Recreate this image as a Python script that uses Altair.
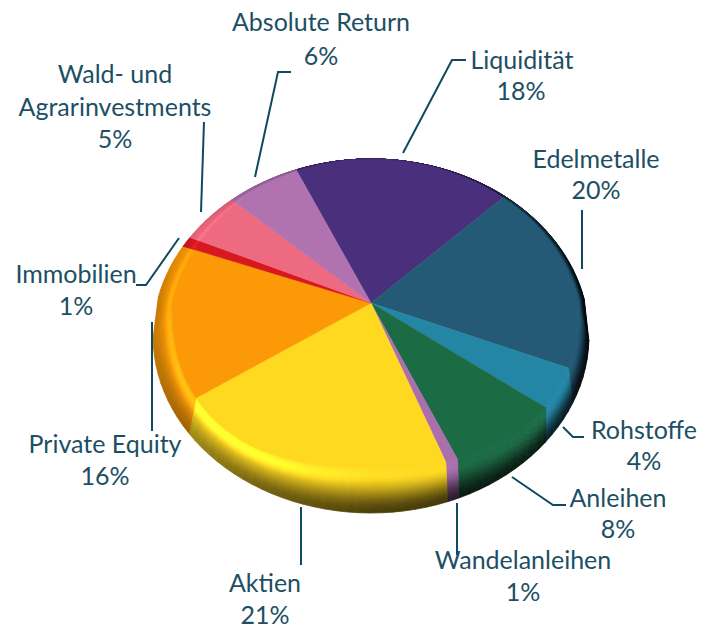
import math
import altair as alt
import pandas as pd

names = ["Liquidität", "Edelmetalle", "Rohstoffe", "Anleihen", "Wandelanleihen",
         "Aktien", "Private Equity", "Immobilien", "Wald- und Agrarinvestments", "Absolute Return"]
shares = [17.4, 19.8, 4.0, 8.1, 0.9, 21.4, 15.5, 1.1, 5.3, 6.1]
colors = ["#4a2f7c", "#245a76", "#2486a5", "#1b6b45", "#ab6fae",
          "#ffd820", "#fb9a06", "#d8181f", "#ee6a80", "#b073b0"]

label_lines = ["Absolute Return", "6%", "Liquidität", "18%", "Edelmetalle", "20%", "Rohstoffe", "4%",
               "Anleihen", "8%", "Wandelanleihen", "1%", "Aktien", "21%", "Private Equity", "16%",
               "Immobilien", "1%", "Wald- und", "Agrarinvestments", "5%"]
label_x = [321, 321, 522, 521, 596, 596, 644, 644, 618, 618, 523, 523, 265, 265, 105, 105, 76, 76, 115, 115, 115]
label_y = [23, 57, 61, 92, 160, 191, 431, 462, 499, 530, 561, 593, 584, 616, 445, 477, 275, 307, 75, 108, 140]

leaders = [
    [(291, 72), (278, 72), (255, 177)],
    [(466, 60), (452, 60), (403, 153)],
    [(582, 210), (582, 269)],
    [(563, 427), (573, 437), (584, 437)],
    [(512, 477), (553, 505), (566, 505)],
    [(457, 503), (457, 555)],
    [(301, 507), (301, 565)],
    [(152, 322), (152, 431)],
    [(136, 285), (146, 285), (179, 238)],
    [(204, 122), (201, 212)],
]

APEX = (371, 303)
START = -22.0
OUTER_C = (371, 336)
OUTER_A, OUTER_B = 218, 177
FACE_LOW = dict(l=199, r=207, b=165, n=2.4)
BANDS = 20
STEP = 3.0

DARK = [(0, .7), (45, .45), (90, .1), (120, .22), (135, .28), (160, .26), (180, .3),
        (210, .45), (235, .62), (270, .8), (300, .95), (360, .7)]
HIGH = [(0, 0), (90, 0), (150, 0), (180, .03), (210, .18), (235, .25), (270, .12), (300, .08), (360, 0)]


def table(tbl, th):
    th %= 360
    for (a, va), (b, vb) in zip(tbl, tbl[1:]):
        if a <= th <= b:
            return va + (vb - va) * (th - a) / (b - a)
    return tbl[-1][1]


def direction(th):
    s, c = math.sin(math.radians(th)), math.cos(math.radians(th))
    ax = FACE_LOW["r"] if s >= 0 else FACE_LOW["l"]
    ry = 143 if c >= 0 else FACE_LOW["b"]
    return s, c, ax * s, -ry * c


def outer_ray(th):
    _, _, dx, dy = direction(th)
    ox, oy = APEX[0] - OUTER_C[0], APEX[1] - OUTER_C[1]
    a = (dx / OUTER_A) ** 2 + (dy / OUTER_B) ** 2
    b = 2 * (ox * dx / OUTER_A ** 2 + oy * dy / OUTER_B ** 2)
    cc = (ox / OUTER_A) ** 2 + (oy / OUTER_B) ** 2 - 1
    k = (-b + math.sqrt(b * b - 4 * a * cc)) / (2 * a)
    return APEX[0] + k * dx, APEX[1] + k * dy


def outer(th):
    s, c = math.sin(math.radians(th)), math.cos(math.radians(th))
    if c >= 0:
        return outer_ray(th)
    return OUTER_C[0] + OUTER_A * s, OUTER_C[1] - OUTER_B * c


def face(th):
    s, c, dx, dy = direction(th)
    if c < 0:
        n = FACE_LOW["n"]
        k = 1 / (abs(s) ** n + abs(c) ** n) ** (1 / n)
        return APEX[0] + dx * k, APEX[1] + dy * k
    ox, oy = outer_ray(th)
    s90 = .967 if s >= 0 else .93
    f = 1 - (1 - s90) * s * s
    return APEX[0] + (ox - APEX[0]) * f, APEX[1] + (oy - APEX[1]) * f


def between(th, t):
    a, b = face(th), outer(th)
    return a[0] + (b[0] - a[0]) * t, a[1] + (b[1] - a[1]) * t


def shade(col, th, t):
    rgb = [int(col[i:i + 2], 16) for i in (1, 3, 5)]
    d, h = table(DARK, th), table(HIGH, th)
    u = max(0.0, min(1.0, (t - .15) / .85))
    u = u * u * (3 - 2 * u)
    bump = math.exp(-((t - .18) / .18) ** 2) * h
    f = (1 + bump) * (1 + (d - 1) * u)
    return "#%02x%02x%02x" % tuple(min(255, int(v * f + 40 * bump)) for v in rgb)


total = sum(shares)
rows = []
pid = 0
rim_rows = []
ang = START
for name, val, col in zip(names, shares, colors):
    span = val / total * 360
    pts = [APEX]
    n = max(2, math.ceil(span / 2))
    pts += [face(ang + span * i / n) for i in range(n + 1)]
    for o, (x, y) in enumerate(pts):
        rows.append(dict(pid=pid, o=o, x=round(x, 2), y=round(y, 2), c=col))
    pid += 1
    segs = max(1, math.ceil(span / STEP))
    for i in range(segs):
        a0, a1 = ang + span * i / segs, ang + span * (i + 1) / segs
        for b in range(BANDS):
            t0, t1 = b / BANDS, (b + 1) / BANDS
            quad = [between(a0, t0), between(a1, t0), between(a1, t1), between(a0, t1)]
            cc = shade(col, (a0 + a1) / 2, (t0 + t1) / 2)
            for o, (x, y) in enumerate(quad):
                rim_rows.append(dict(pid=pid, o=o, x=round(x, 2), y=round(y, 2), c=cc))
            pid += 1
    ang += span

xs = alt.Scale(domain=[8, 705], nice=False, zero=False)
ys = alt.Scale(domain=[627, 8], nice=False, zero=False)
X = alt.X("x:Q", scale=xs, axis=None)
Y = alt.Y("y:Q", scale=ys, axis=None)


def polys(data, width):
    return alt.Chart(pd.DataFrame(data)).mark_line(interpolate="linear-closed", strokeWidth=width, fill="black").encode(
        x=X, y=Y, detail="pid:N", order="o:Q",
        fill=alt.Fill("c:N", scale=None), stroke=alt.Stroke("c:N", scale=None))


lead_rows = [dict(l=i, o=j, x=p[0], y=p[1]) for i, line in enumerate(leaders) for j, p in enumerate(line)]
lead = alt.Chart(pd.DataFrame(lead_rows)).mark_line(color="#0f4a60", strokeWidth=2).encode(
    x=X, y=Y, detail="l:N", order="o:Q")

text = alt.Chart(pd.DataFrame(dict(t=label_lines, x=label_x, y=label_y))).mark_text(
    font="Lato", fontSize=25, color="#1c4f64", align="center", baseline="middle").encode(x=X, y=Y, text="t:N")

chart = alt.layer(polys(rim_rows, 0.8), polys(rows, 0.5), lead, text).properties(
    width=697, height=619, padding=0, autosize=alt.AutoSizeParams(type="none")
).configure_view(stroke=None)

chart.save("out.html", embed_options={"renderer": "svg", "actions": False})
